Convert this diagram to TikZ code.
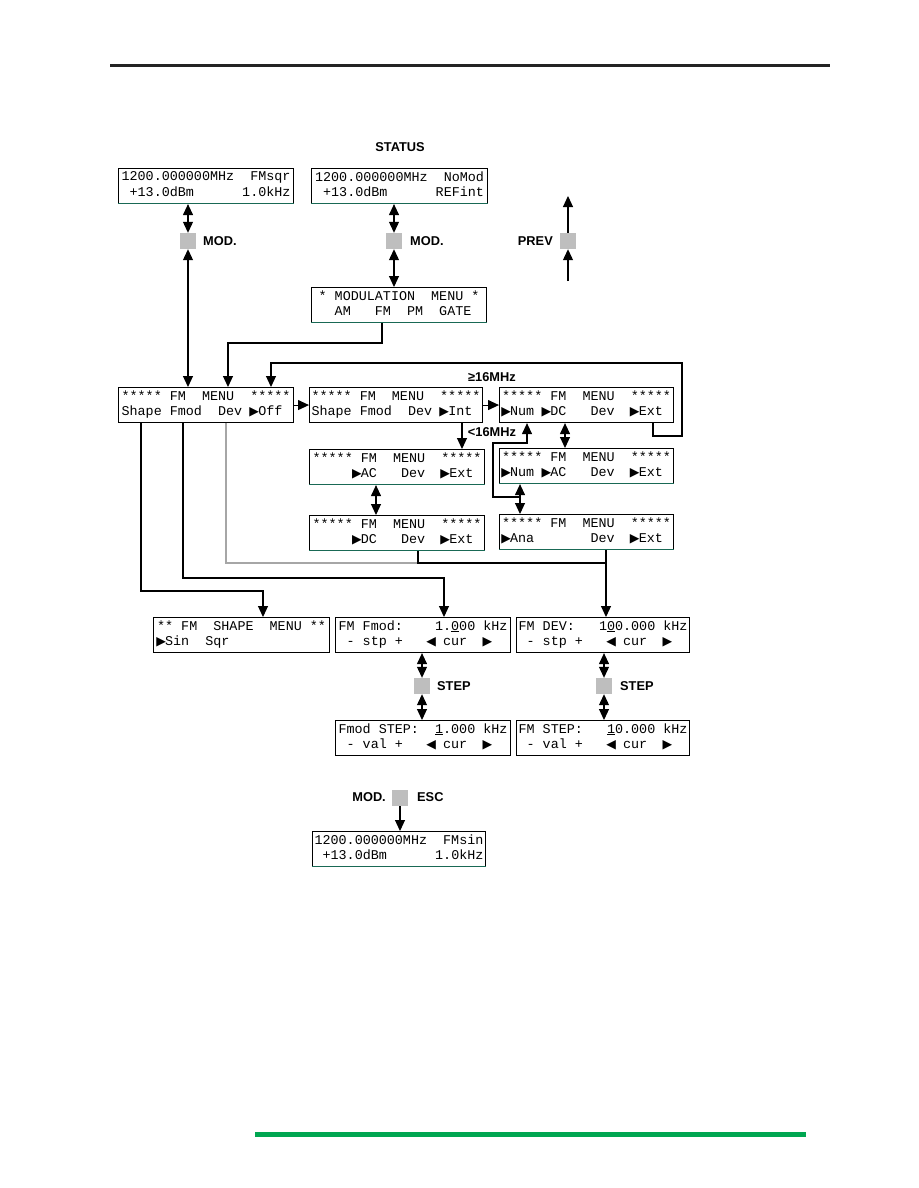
\documentclass[tikz,border=0pt]{standalone}
\usepackage{fontspec}
\usetikzlibrary{arrows.meta}
\newfontfamily\lcdfont{Liberation Mono}
\newfontfamily\labfont{Liberation Sans}
\newfontfamily\trifont{DejaVu Sans}
\definecolor{keygray}{RGB}{190,190,190}
\definecolor{lcdteal}{RGB}{25,105,85}
\definecolor{bargreen}{RGB}{0,166,81}
\definecolor{rulegray}{RGB}{35,35,35}
\newcommand\trR{\makebox[0.6em][c]{\trifont\fontsize{12.5}{12.5}\selectfont ▶}}
\newcommand\trL{\makebox[0.6em][c]{\trifont\fontsize{12.5}{12.5}\selectfont ◀}}
\tikzset{
  lcd/.style={draw, line width=1.1pt, rectangle, anchor=north west,
    minimum width=#1, minimum height=35pt, align=left,
    inner xsep=2pt, inner ysep=0pt,
    execute at begin node={\rule{0pt}{10pt}},
    execute at end node={\rule[-4pt]{0pt}{4pt}},
    font=\lcdfont\fontsize{13.4}{15.5}\selectfont},
  lcd/.default=175pt,
  keybox/.style={fill=keygray, minimum size=16pt, inner sep=0pt},
  lab/.style={font=\labfont\bfseries\fontsize{12.8}{14}\selectfont, inner sep=0pt},
  conn/.style={line width=1.1pt},
  arr/.style={line width=1.1pt, -{Triangle[length=11pt,width=10pt]}},
  dbl/.style={line width=1.1pt, {Triangle[length=11pt,width=10pt]}-{Triangle[length=11pt,width=10pt]}},
  gline/.style={line width=1.1pt, color=gray!70},
  tealedge/.style={line width=1.4pt, color=lcdteal}
}
\begin{document}
\begin{tikzpicture}[x=1pt,y=-1pt]
\useasboundingbox (0,0) rectangle (918,1188);
\fill[white] (0,0) rectangle (918,1188);
% page rules
\draw[line width=3pt, rulegray] (110,66) -- (830,66);
\fill[bargreen] (255,1132) rectangle (806,1137);

% LCD boxes
\node[lcd] (A) at (118,168) {1200.000000MHz~~FMsqr\\~+13.0dBm~~~~~~1.0kHz};
\node[lcd=176pt] (B) at (311,168) {1200.000000MHz~~NoMod\\~+13.0dBm~~~~~~REFint};
\node[lcd] (Mod) at (311,287) {*~MODULATION~~MENU~*\\~~AM~~~FM~~PM~~GATE};
\node[lcd] (Off) at (118,387) {*****~FM~~MENU~~*****\\Shape~Fmod~~Dev~\trR Off};
\node[lcd=171pt] (Int) at (309,387) {*****~FM~~MENU~~*****\\Shape~Fmod~~Dev~\trR Int};
\node[lcd=174pt] (NumDC) at (499,387) {*****~FM~~MENU~~*****\\\trR Num~\trR DC~~~Dev~~\trR Ext};
\node[lcd] (AC) at (309,449) {*****~FM~~MENU~~*****\\~~~~~\trR AC~~~Dev~~\trR Ext};
\node[lcd=174pt] (NumAC) at (499,448) {*****~FM~~MENU~~*****\\\trR Num~\trR AC~~~Dev~~\trR Ext};
\node[lcd] (DC) at (309,515) {*****~FM~~MENU~~*****\\~~~~~\trR DC~~~Dev~~\trR Ext};
\node[lcd=174pt] (Ana) at (499,514) {*****~FM~~MENU~~*****\\\trR Ana~~~~~~~Dev~~\trR Ext};
\node[lcd=176pt] (Shape) at (153,617) {**~FM~~SHAPE~~MENU~**\\\trR Sin~~Sqr};
\node[lcd] (Fmod) at (335,617) {FM~Fmod:~~~~1.\underline{0}00~kHz\\~-~stp~+~~~\trL~cur~~\trR};
\node[lcd=173pt] (Dev) at (516,617) {FM~DEV:~~~1\underline{0}0.000~kHz\\~-~stp~+~~~\trL~cur~~\trR};
\node[lcd] (FmodStep) at (335,720) {Fmod~STEP:~~\underline{1}.000~kHz\\~-~val~+~~~\trL~cur~~\trR};
\node[lcd=173pt] (FMStep) at (516,720) {FM~STEP:~~~\underline{1}0.000~kHz\\~-~val~+~~~\trL~cur~~\trR};
\node[lcd=171pt] (Final) at (312,831) {1200.000000MHz~~FMsin\\~+13.0dBm~~~~~~1.0kHz};

% teal lower edges
\foreach \n in {A,B,Mod,AC,DC,NumAC,Ana,Final}
  \draw[tealedge] ([yshift=0.6pt]\n.south west) -- ([yshift=0.6pt]\n.south east);

% keys
\node[keybox] (k1) at (188,241) {};
\node[keybox] (k2) at (394,241) {};
\node[keybox] (k3) at (568,241) {};
\node[keybox] (k4) at (422,686) {};
\node[keybox] (k5) at (604,686) {};
\node[keybox] (k6) at (400,798) {};

% labels
\node[lab] (status) at (400,147) {STATUS};
\node[lab, anchor=west] (m1) at (203,241) {MOD.};
\node[lab, anchor=west] (m2) at (410,241) {MOD.};
\node[lab, anchor=east] (prev) at (553,241) {PREV};
\node[lab] (ge) at (492,377) {≥16MHz};
\node[lab] (lt) at (492,432) {<16MHz};
\node[lab, anchor=west] (s1) at (437,686) {STEP};
\node[lab, anchor=west] (s2) at (620,686) {STEP};
\node[lab, anchor=east] (m3) at (386,797) {MOD.};
\node[lab, anchor=west] (esc) at (417,797) {ESC};

% coordinates for bends
\coordinate (b1) at (382,343); \coordinate (b2) at (228,343);
\coordinate (c1) at (653,436); \coordinate (c2) at (682,436);
\coordinate (c3) at (682,363); \coordinate (c4) at (271,363);
\coordinate (d1) at (462,435);
\coordinate (v1) at (376,500); \coordinate (v2) at (565,435);
\coordinate (f1) at (520,497); \coordinate (f2) at (493,497);
\coordinate (f3) at (493,443); \coordinate (f4) at (527,443);
\coordinate (g1) at (141,591); \coordinate (g2) at (263,591);
\coordinate (h1) at (183,578); \coordinate (h2) at (444,578);
\coordinate (e1) at (226,563); \coordinate (e2) at (418,563); \coordinate (e3) at (606,563);
\coordinate (p1) at (568,196); \coordinate (p2) at (568,281);

% connectors
\draw[dbl] (k1 |- A.south) -- (k1.north);
\draw[dbl] (k2 |- B.south) -- (k2.north);
\draw[dbl] (k2.south) -- (k2 |- Mod.north);
\draw[dbl] (k1.south) -- (k1 |- Off.north);
\draw[arr] (b1 |- Mod.south) -- (b1) -- (b2) -- (b2 |- Off.north);
\draw[arr] (c1 |- NumDC.south) -- (c1) -- (c2) -- (c3) -- (c4) -- (c4 |- Off.north);
\draw[arr] (Off.east) -- (Int.west);
\draw[arr] (Int.east) -- (NumDC.west);
\draw[arr] (d1 |- Int.south) -- (d1 |- AC.north);
\draw[dbl] (v1 |- AC.south) -- (v1 |- DC.north);
\draw[dbl] (v2 |- NumDC.south) -- (v2 |- NumAC.north);
\draw[dbl] (f1 |- NumAC.south) -- (f1 |- Ana.north);
\draw[arr] (f1) -- (f2) -- (f3) -- (f4) -- (f4 |- NumDC.south);
\draw[arr] (g1 |- Off.south) -- (g1) -- (g2) -- (g2 |- Shape.north);
\draw[arr] (h1 |- Off.south) -- (h1) -- (h2) -- (h2 |- Fmod.north);
\draw[gline] (e1 |- Off.south) -- (e1) -- (e2);
\draw[arr] (e2 |- DC.south) -- (e2) -- (e3) -- (e3 |- Dev.north);
\draw[conn] (e3 |- Ana.south) -- (e3);
\draw[dbl] (k4 |- Fmod.south) -- (k4.north);
\draw[dbl] (k4.south) -- (k4 |- FmodStep.north);
\draw[dbl] (k5 |- Dev.south) -- (k5.north);
\draw[dbl] (k5.south) -- (k5 |- FMStep.north);
\draw[arr] (k6.south) -- (k6 |- Final.north);
\draw[arr] (k3.north) -- (p1);
\draw[arr] (p2) -- (k3.south);
\end{tikzpicture}
\end{document}
